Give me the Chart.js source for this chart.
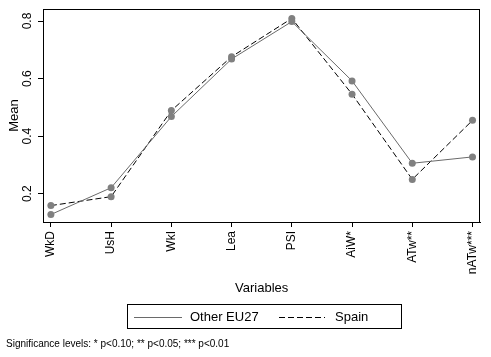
<!DOCTYPE html>
<html>
<head>
<meta charset="utf-8">
<script src="https://cdn.jsdelivr.net/npm/chart.js@4"></script>
<style>
html,body{margin:0;padding:0;background:#fff;}
#wrap{width:491px;height:357px;position:relative;}
</style>
</head>
<body>
<div id="wrap"><canvas id="c" width="491" height="357"></canvas></div>
<script>
const categories = ['WkD', 'UsH', 'WkI', 'Lea', 'PSI', 'AiW*', 'ATw**', 'nATw***'];
const otherEU27 = [0.128, 0.221, 0.468, 0.668, 0.798, 0.592, 0.306, 0.328];
const spain = [0.159, 0.190, 0.489, 0.676, 0.809, 0.546, 0.250, 0.455];
const yTicks = [0.2, 0.4, 0.6, 0.8];
const seriesNames = ['Other EU27', 'Spain'];
const footnote = 'Significance levels: * p<0.10; ** p<0.05; *** p<0.01';
const xTitle = 'Variables';
const yTitle = 'Mean';

const FONT = "'Liberation Sans', Arial, sans-serif";

const toPoints = arr => arr.map((v, i) => ({x: i, y: v}));

const framePlugin = {
  id: 'frame',
  afterDraw(chart) {
    const {ctx, chartArea: a} = chart;
    ctx.save();
    ctx.strokeStyle = '#000';
    ctx.lineWidth = 1;
    ctx.strokeRect(Math.round(a.left) + 0.5, Math.round(a.top) + 0.5,
                   Math.round(a.right - a.left) - 1, Math.round(a.bottom - a.top));
    // custom legend
    const bx = 127.5, by = 304.5, bw = 274, bh = 24;
    ctx.strokeRect(bx, by, bw, bh);
    const cy = by + bh / 2;
    const items = [
      {x0: 134, x1: 182, tx: 190},
      {x0: 279, x1: 325, tx: 335}
    ];
    chart.data.datasets.forEach((ds, i) => {
      const it = items[i];
      ctx.save();
      ctx.strokeStyle = ds.borderColor;
      ctx.lineWidth = ds.borderWidth;
      ctx.setLineDash(ds.borderDash || []);
      ctx.beginPath();
      ctx.moveTo(it.x0, Math.round(cy) + 0.5);
      ctx.lineTo(it.x1, Math.round(cy) + 0.5);
      ctx.stroke();
      ctx.restore();
      ctx.fillStyle = '#000';
      ctx.font = '13px ' + FONT;
      ctx.textBaseline = 'middle';
      ctx.textAlign = 'left';
      ctx.fillText(ds.label, it.tx, cy + 1);
    });
    // footnote
    ctx.font = '10px ' + FONT;
    ctx.fillStyle = '#000';
    ctx.textBaseline = 'middle';
    ctx.textAlign = 'left';
    ctx.fillText(footnote, 6, 344);
    ctx.restore();
  }
};

new Chart(document.getElementById('c'), {
  type: 'line',
  data: {
    datasets: [
      {
        label: seriesNames[0],
        data: toPoints(otherEU27),
        borderColor: '#6a6a6a',
        borderWidth: 1,
        pointBackgroundColor: '#808080',
        pointBorderColor: '#808080',
        pointRadius: 3.5,
        pointBorderWidth: 0,
        tension: 0,
        fill: false
      },
      {
        label: seriesNames[1],
        data: toPoints(spain),
        borderColor: '#000000',
        borderWidth: 1,
        borderDash: [6, 3],
        pointBackgroundColor: '#808080',
        pointBorderColor: '#808080',
        pointRadius: 3.5,
        pointBorderWidth: 0,
        tension: 0,
        fill: false
      }
    ]
  },
  options: {
    responsive: false,
    animation: false,
    devicePixelRatio: 1,
    layout: {autoPadding: false, padding: {left: 0, top: 4, right: 5, bottom: 0}},
    plugins: {legend: {display: false}, tooltip: {enabled: false}},
    scales: {
      x: {
        type: 'linear',
        min: -0.131,
        max: 7.131,
        afterBuildTicks: s => { s.ticks = categories.map((c, i) => ({value: i})); },
        afterFit: s => { s.height = 135; },
        grid: {display: true, drawOnChartArea: false, drawTicks: true, tickLength: 5, color: '#000'},
        border: {display: true, color: '#000', width: 1},
        ticks: {
          autoSkip: false,
          minRotation: 90,
          maxRotation: 90,
          padding: 4,
          color: '#000',
          font: {family: FONT, size: 12},
          callback: v => categories[v]
        },
        title: {display: true, text: xTitle, color: '#000', font: {family: FONT, size: 13}, padding: {top: 0, bottom: 61}}
      },
      y: {
        type: 'linear',
        min: 0.102,
        max: 0.841,
        afterBuildTicks: s => { s.ticks = yTicks.map(v => ({value: v})); },
        afterFit: s => { s.width = 43; },
        grid: {display: true, drawOnChartArea: false, drawTicks: true, tickLength: 5, color: '#000'},
        border: {display: true, color: '#000', width: 1},
        ticks: {
          minRotation: 90,
          maxRotation: 90,
          crossAlign: 'center',
          padding: 2,
          color: '#000',
          font: {family: FONT, size: 12},
          callback: v => v.toFixed(1)
        },
        title: {display: true, text: yTitle, color: '#000', font: {family: FONT, size: 13}, padding: {top: 7, bottom: 0}}
      }
    }
  },
  plugins: [framePlugin]
});
</script>
</body>
</html>
